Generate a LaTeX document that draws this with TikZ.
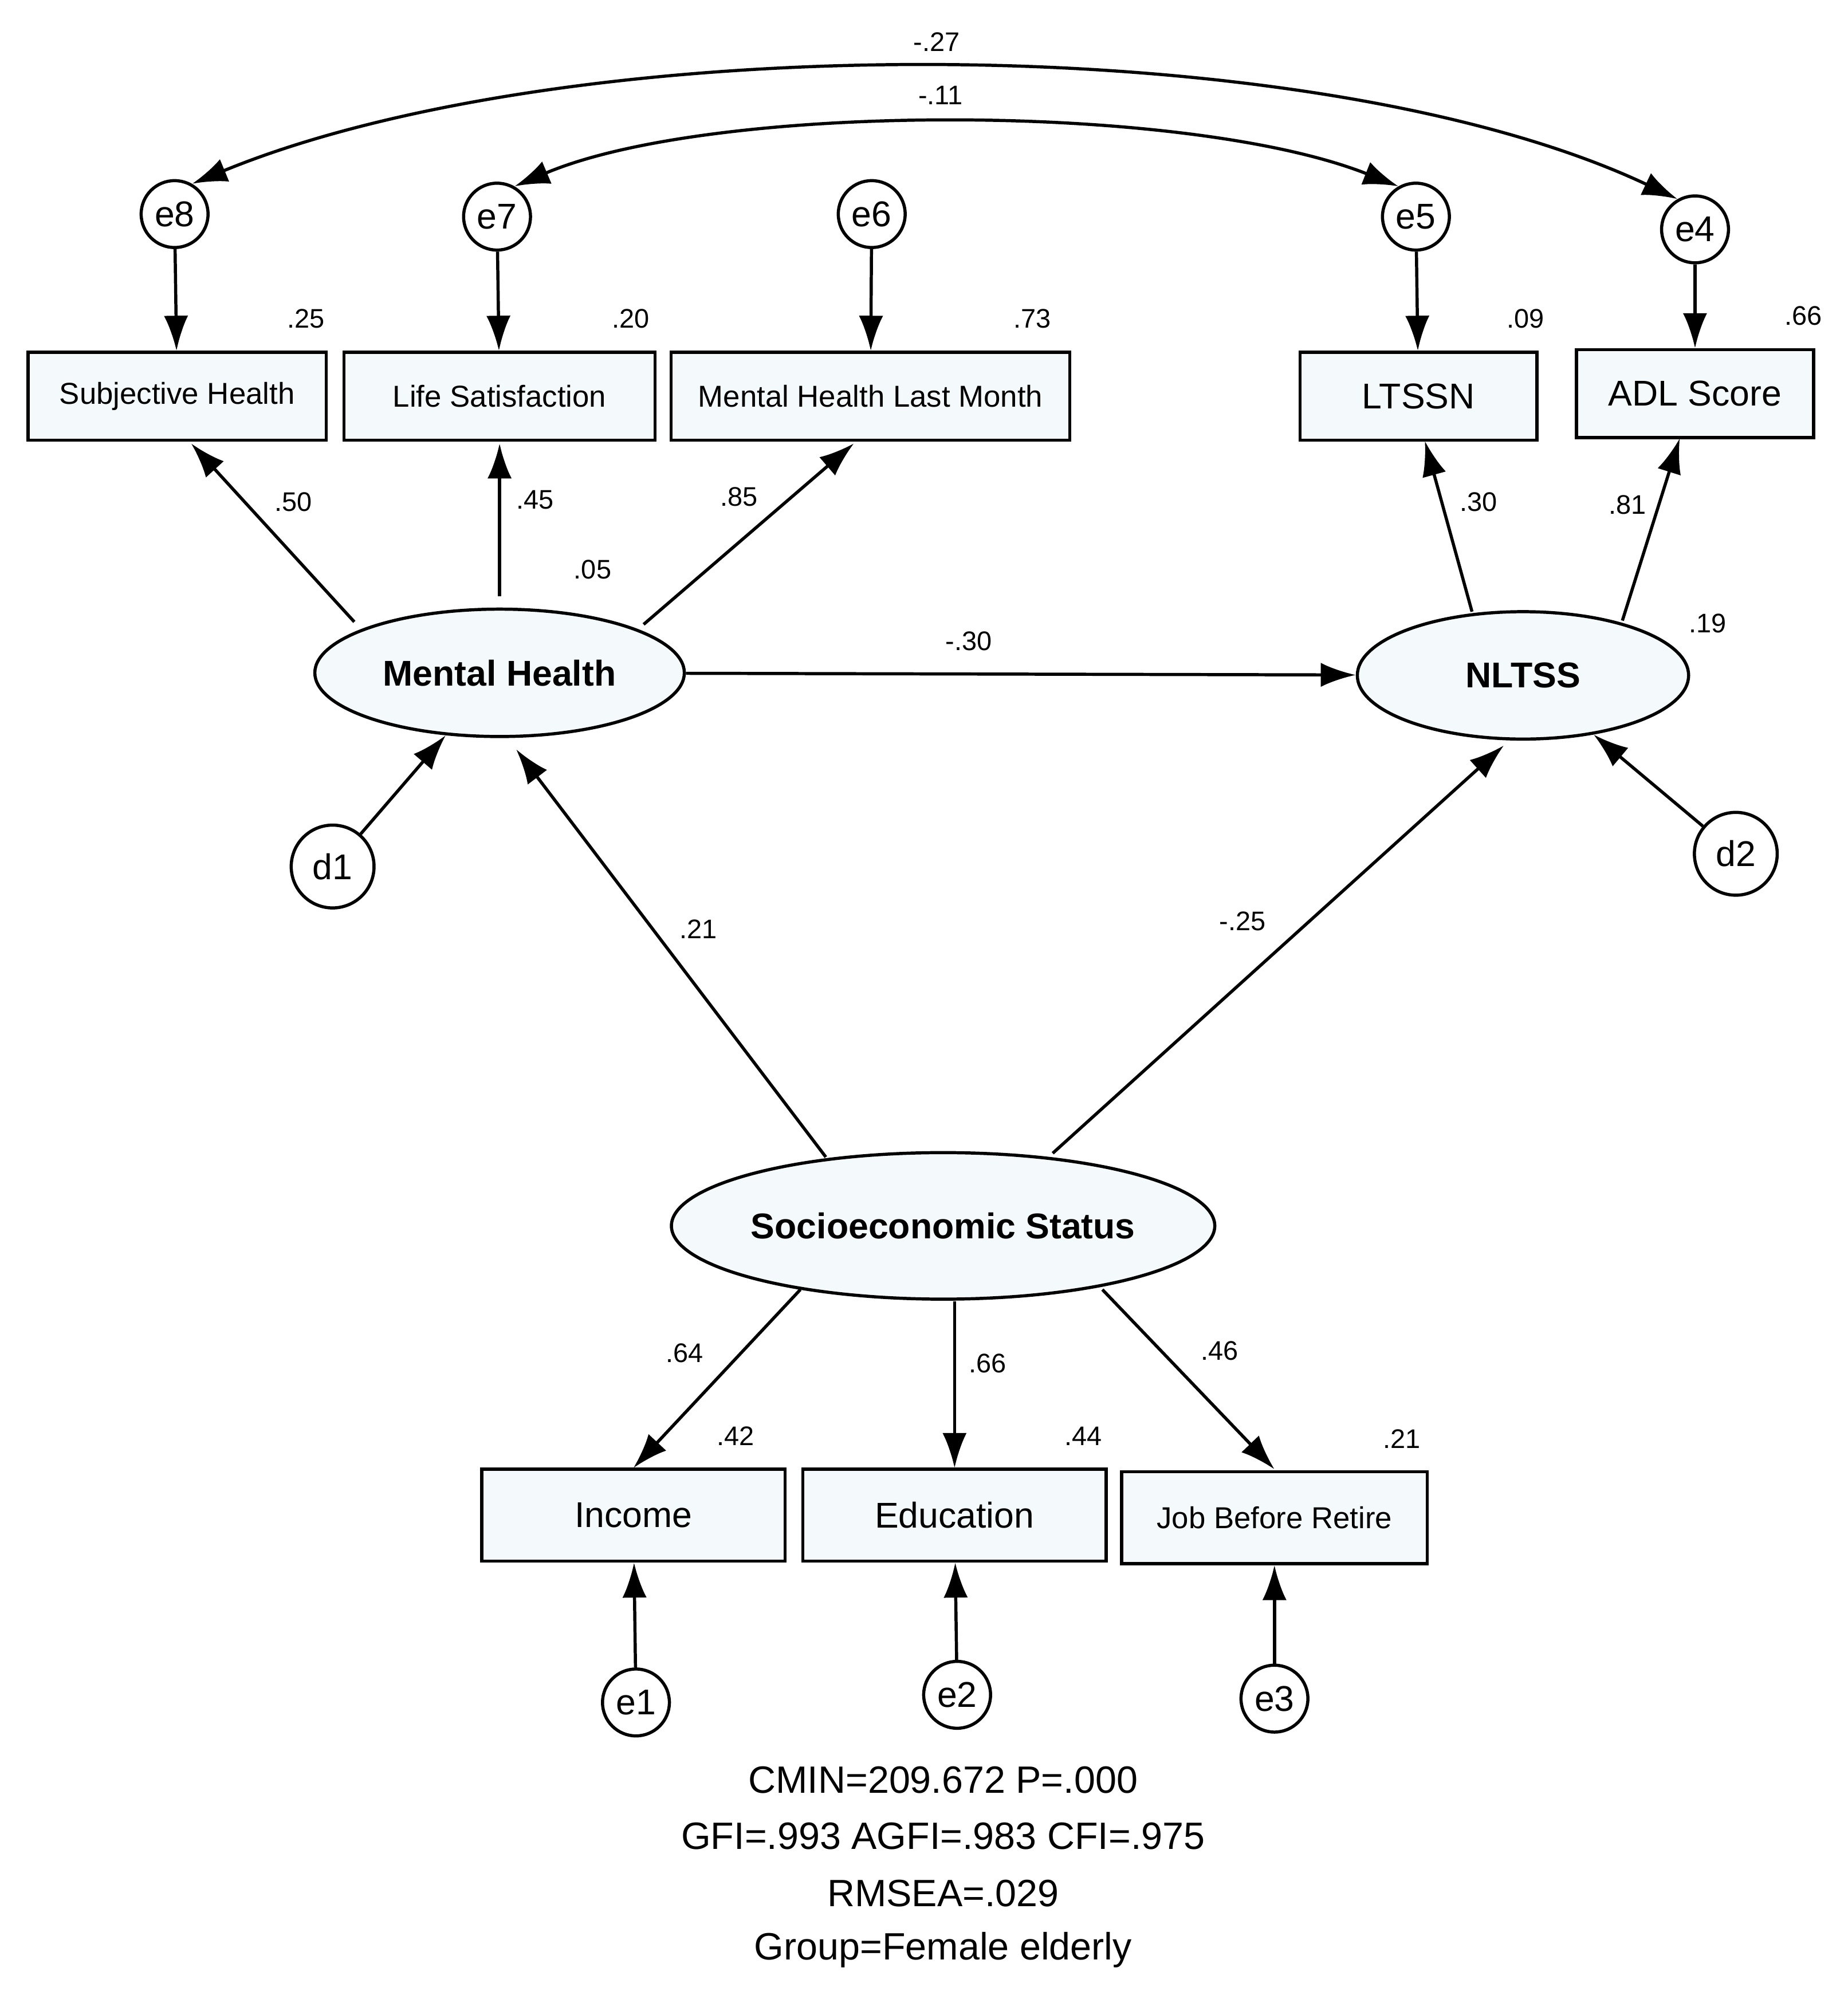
\documentclass[tikz,border=0pt]{standalone}
\usepackage{fontspec}
\setmainfont{Liberation Sans}
\usetikzlibrary{arrows.meta,shapes.geometric}
\definecolor{fillc}{HTML}{F4F9FC}
\begin{document}
\begin{tikzpicture}[x=0.02cm,y=-0.02cm,
 box/.style={draw,line width=1.4pt,fill=fillc,minimum height=1.38cm,inner sep=0pt,font=\fontsize{13.5}{15}\selectfont},
 bbox/.style={box,font=\fontsize{16}{18}\selectfont},
 lat/.style={draw,ellipse,line width=1.4pt,fill=fillc,inner sep=0pt,font=\fontsize{16}{18}\selectfont\bfseries},
 err/.style={draw,circle,line width=1.4pt,fill=white,inner sep=0pt,minimum size=1.05cm,font=\fontsize{16}{18}\selectfont},
 ar/.style={-{Latex[length=0.55cm,width=0.38cm]},line width=1.4pt},
 num/.style={font=\fontsize{12}{14}\selectfont},
 fit/.style={font=\fontsize{17}{20}\selectfont}]
\useasboundingbox (0,0) rectangle (1450,1575);
\node[err] (e8) at (137,168) {e8};
\node[err] (e7) at (390,170) {e7};
\node[err] (e6) at (684,168) {e6};
\node[err] (e5) at (1111,170) {e5};
\node[err] (e4) at (1330,180) {e4};
\node[box,minimum width=4.68cm] (sh) at (139,311) {Subjective Health};
\node[box,minimum width=4.88cm] (ls) at (392,311) {Life Satisfaction};
\node[box,minimum width=6.26cm] (mh) at (683,311) {Mental Health Last Month};
\node[bbox,minimum width=3.72cm] (lt) at (1113,311) {LTSSN};
\node[bbox,minimum width=3.72cm] (adl) at (1330,309) {ADL Score};
\node[lat,minimum width=5.8cm,minimum height=2cm] (MH) at (392,528) {Mental Health};
\node[lat,minimum width=5.2cm,minimum height=2cm] (NL) at (1195,530) {NLTSS};
\node[lat,minimum width=7.6cm,minimum height=2.3cm] (SES) at (740,962) {Socioeconomic Status};
\node[err,minimum size=1.3cm] (d1) at (261,680) {d1};
\node[err,minimum size=1.3cm] (d2) at (1362,670) {d2};
\node[bbox,minimum width=4.76cm,minimum height=1.44cm] (inc) at (497,1189) {Income};
\node[bbox,minimum width=4.76cm,minimum height=1.44cm] (edu) at (749,1189) {Education};
\node[box,minimum width=4.8cm,minimum height=1.44cm] (job) at (1000,1191) {Job Before Retire};
\node[err] (e1) at (499,1336) {e1};
\node[err] (e2) at (751,1330) {e2};
\node[err] (e3) at (1000,1333) {e3};
\foreach \a/\b in {e8/sh,e7/ls,e6/mh,e5/lt,e4/adl,d1/MH,d2/NL,e1/inc,e2/edu,e3/job} \draw[ar] (\a) -- (\b);
\draw[ar] (278,488) -- (150,348);
\draw[ar] (392,468) -- (392,348);
\draw[ar] (505,490) -- (670,348);
\draw[ar] (1155,480) -- (1118,346);
\draw[ar] (1273,487) -- (1318,344);
\draw[ar] (MH) -- (NL);
\draw[ar] (648,908) -- (405,588);
\draw[ar] (826,905) -- (1180,585);
\draw[ar] (628,1012) -- (497,1152);
\draw[ar] (749,1021) -- (749,1152);
\draw[ar] (865,1012) -- (1000,1153);
\draw[{Latex[length=0.55cm,width=0.38cm]}-{Latex[length=0.55cm,width=0.38cm]},line width=1.4pt] (e8.60) .. controls (450,21) and (1030,21) .. (e4.120);
\draw[{Latex[length=0.55cm,width=0.38cm]}-{Latex[length=0.55cm,width=0.38cm]},line width=1.4pt] (e7.60) .. controls (560,80) and (930,80) .. (e5.120);
\foreach \x/\y/\t in {240/250/.25,495/250/.20,810/250/.73,1197/250/.09,1415/248/.66,230/394/.50,420/392/.45,580/390/.85,465/447/.05,1160/394/.30,1277/396/.81,1340/489/.19,760/503/-.30,548/729/.21,975/723/-.25,537/1062/.64,577/1127/.42,775/1070/.66,850/1127/.44,957/1060/.46,1100/1129/.21,735/33/-.27,738/75/-.11}
 \node[num] at (\x,\y) {\t};
\node[fit] (f1) at (740,1397) {CMIN=209.672 P=.000};
\node[fit] (f2) at (740,1441) {GFI=.993 AGFI=.983 CFI=.975};
\node[fit] (f3) at (740,1486) {RMSEA=.029};
\node[fit] (f4) at (740,1530) {Group=Female elderly};
\end{tikzpicture}
\end{document}
